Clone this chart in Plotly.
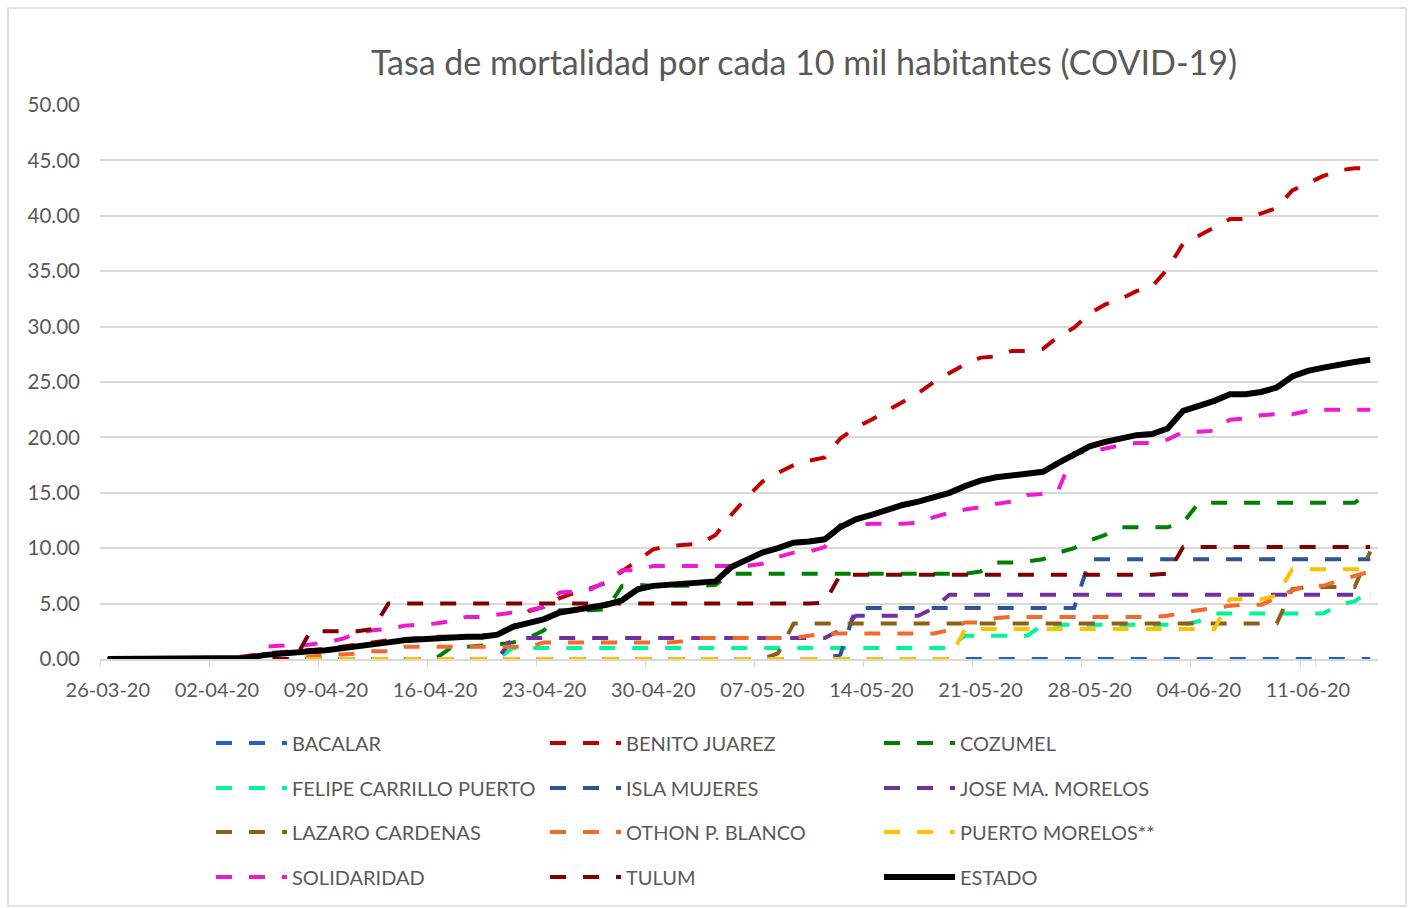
import plotly.graph_objects as go
import pandas as pd

# ---------------- data ----------------
dates = pd.date_range("2020-03-26", periods=82).strftime("%d-%m-%y").tolist()
tick_labels = dates[::7]

BACALAR = [0.0] * 82

BENITO_JUAREZ = [0, 0, 0, 0, 0, 0, 0, 0,
                 0.1, 0.3, 0.5, 0.6, 0.7, 0.8, 0.9, 1.1,
                 1.3, 1.5, 1.7, 1.8, 1.9, 2.0, 2.0, 2.0,
                 2.1, 2.4, 2.9, 4.3, 4.7, 5.5, 6.0, 6.4,
                 6.9, 7.9, 8.9, 9.9, 10.2, 10.3, 10.4, 11.2,
                 13.0, 14.6, 16.0, 16.8, 17.5, 17.9, 18.2, 19.9,
                 20.9, 21.6, 22.4, 23.3, 24.0, 25.0, 25.8, 26.6,
                 27.2, 27.3, 27.8, 27.8, 28.0, 29.1, 29.9, 31.2,
                 32.0, 32.5, 33.2, 33.6, 35.2, 37.5, 38.2, 39.0,
                 39.7, 39.7, 40.2, 40.7, 42.3, 43.0, 43.6, 44.1,
                 44.3, 44.3]

COZUMEL = [0, 0, 0, 0, 0, 0, 0, 0,
           0, 0, 0, 0, 0, 0, 0, 0,
           0, 0, 0, 0, 0, 0, 1.0, 1.1,
           1.2, 1.3, 1.5, 1.9, 2.6, 4.4, 4.4, 4.4,
           4.5, 6.6, 6.7, 6.6, 6.6, 6.6, 6.6, 6.7,
           7.7, 7.7, 7.7, 7.7, 7.7, 7.7, 7.7, 7.7,
           7.7, 7.7, 7.7, 7.7, 7.7, 7.7, 7.7, 7.7,
           7.9, 8.7, 8.7, 8.8, 9.0, 9.6, 10.0, 10.7,
           11.2, 11.9, 11.9, 11.9, 11.9, 12.3, 14.1, 14.1,
           14.1, 14.1, 14.1, 14.1, 14.1, 14.1, 14.1, 14.1,
           14.1, 15.1]

FELIPE_CARRILLO_PUERTO = [0, 0, 0, 0, 0, 0, 0, 0,
                          0, 0, 0, 0, 0, 0, 0, 0,
                          0, 0, 0, 0, 0, 0, 0, 0,
                          0, 0, 1.0, 1.0, 1.0, 1.0, 1.0, 1.0,
                          1.0, 1.0, 1.0, 1.0, 1.0, 1.0, 1.0, 1.0,
                          1.0, 1.0, 1.0, 1.0, 1.0, 1.0, 1.0, 1.0,
                          1.0, 1.0, 1.0, 1.0, 1.0, 1.0, 1.0, 2.1,
                          2.1, 2.1, 2.1, 2.1, 3.1, 3.1, 3.1, 3.1,
                          3.1, 3.1, 3.1, 3.1, 3.1, 3.1, 3.4, 4.1,
                          4.1, 4.1, 4.1, 4.1, 4.1, 4.1, 4.1, 4.9,
                          5.2, 6.2]

ISLA_MUJERES = [0, 0, 0, 0, 0, 0, 0, 0,
                0, 0, 0, 0, 0, 0, 0, 0,
                0, 0, 0, 0, 0, 0, 0, 0,
                0, 0, 0, 0, 0, 0, 0, 0,
                0, 0, 0, 0, 0, 0, 0, 0,
                0, 0, 0, 0, 0, 0, 0, 0.4,
                4.6, 4.6, 4.6, 4.6, 4.6, 4.6, 4.6, 4.6,
                4.6, 4.6, 4.6, 4.6, 4.6, 4.6, 4.6, 9.0,
                9.0, 9.0, 9.0, 9.0, 9.0, 9.0, 9.0, 9.0,
                9.0, 9.0, 9.0, 9.0, 9.0, 9.0, 9.0, 9.0,
                9.0, 9.0]

JOSE_MA_MORELOS = [0, 0, 0, 0, 0, 0, 0, 0,
                   0, 0, 0, 0, 0, 0, 0, 0,
                   0, 0, 0, 0, 0, 0, 0, 0,
                   0, 0, 1.9, 1.9, 1.9, 1.9, 1.9, 1.9,
                   1.9, 1.9, 1.9, 1.9, 1.9, 1.9, 1.9, 1.9,
                   1.9, 1.9, 1.9, 1.9, 1.9, 1.9, 1.9, 2.6,
                   3.9, 3.9, 3.9, 3.9, 3.9, 4.6, 5.8, 5.8,
                   5.8, 5.8, 5.8, 5.8, 5.8, 5.8, 5.8, 5.8,
                   5.8, 5.8, 5.8, 5.8, 5.8, 5.8, 5.8, 5.8,
                   5.8, 5.8, 5.8, 5.8, 5.8, 5.8, 5.8, 5.8,
                   5.8, 5.8]

LAZARO_CARDENAS = [0, 0, 0, 0, 0, 0, 0, 0,
                   0, 0, 0, 0, 0, 0, 0, 0,
                   0, 0, 0, 0, 0, 0, 0, 0,
                   0, 0, 0, 0, 0, 0, 0, 0,
                   0, 0, 0, 0, 0, 0, 0, 0,
                   0, 0, 0, 0.5, 3.2, 3.2, 3.2, 3.2,
                   3.2, 3.2, 3.2, 3.2, 3.2, 3.2, 3.2, 3.2,
                   3.2, 3.2, 3.2, 3.2, 3.2, 3.2, 3.2, 3.2,
                   3.2, 3.2, 3.2, 3.2, 3.2, 3.2, 3.2, 3.2,
                   3.2, 3.2, 3.2, 3.2, 6.3, 6.5, 6.5, 6.5,
                   6.5, 9.7]

OTHON_P_BLANCO = [0, 0, 0, 0, 0, 0, 0, 0,
                  0, 0, 0, 0, 0, 0.2, 0.4, 0.4,
                  0.5, 0.7, 0.7, 1.1, 1.1, 1.1, 1.1, 1.1,
                  1.1, 1.1, 1.1, 1.1, 1.5, 1.5, 1.5, 1.5,
                  1.5, 1.5, 1.5, 1.5, 1.5, 1.6, 1.9, 1.9,
                  1.9, 1.9, 1.9, 1.9, 1.9, 2.1, 2.3, 2.3,
                  2.3, 2.3, 2.3, 2.3, 2.3, 2.3, 2.6, 3.3,
                  3.3, 3.7, 3.8, 3.8, 3.8, 3.8, 3.8, 3.8,
                  3.8, 3.8, 3.8, 3.8, 3.9, 4.2, 4.4, 4.6,
                  4.8, 4.9, 4.9, 5.5, 6.2, 6.6, 6.6, 7.1,
                  7.5, 7.9]

PUERTO_MORELOS = [0, 0, 0, 0, 0, 0, 0, 0,
                  0, 0, 0, 0, 0, 0, 0, 0,
                  0, 0, 0, 0, 0, 0, 0, 0,
                  0, 0, 0, 0, 0, 0, 0, 0,
                  0, 0, 0, 0, 0, 0, 0, 0,
                  0, 0, 0, 0, 0, 0, 0, 0,
                  0, 0, 0, 0, 0, 0, 0, 2.7,
                  2.7, 2.7, 2.7, 2.7, 2.7, 2.7, 2.7, 2.7,
                  2.7, 2.7, 2.7, 2.7, 2.7, 2.7, 2.7, 2.7,
                  5.4, 5.4, 5.4, 5.7, 8.1, 8.1, 8.1, 8.1,
                  8.1, 8.1]

SOLIDARIDAD = [0, 0, 0, 0, 0, 0, 0, 0,
               0, 0, 1.1, 1.2, 1.2, 1.3, 1.5, 1.8,
               2.3, 2.6, 2.7, 3.0, 3.1, 3.2, 3.4, 3.8,
               3.8, 4.0, 4.2, 4.4, 4.7, 6.0, 6.1, 6.3,
               7.0, 8.0, 8.0, 8.4, 8.4, 8.4, 8.4, 8.4,
               8.4, 8.4, 8.6, 9.2, 9.6, 9.7, 10.1, 12.1,
               12.1, 12.2, 12.2, 12.2, 12.3, 12.8, 13.2, 13.5,
               13.7, 14.0, 14.2, 14.8, 14.9, 15.3, 18.6, 18.7,
               19.0, 19.3, 19.5, 19.5, 19.8, 20.5, 20.5, 20.6,
               21.6, 21.7, 22.0, 22.1, 22.1, 22.4, 22.5, 22.5,
               22.5, 22.5]

TULUM = [0, 0, 0, 0, 0, 0, 0, 0,
         0, 0, 0, 0, 0, 2.5, 2.5, 2.5,
         2.5, 2.7, 5.0, 5.0, 5.0, 5.0, 5.0, 5.0,
         5.0, 5.0, 5.0, 5.0, 5.0, 5.0, 5.0, 5.0,
         5.0, 5.0, 5.0, 5.0, 5.0, 5.0, 5.0, 5.0,
         5.0, 5.0, 5.0, 5.0, 5.0, 5.0, 5.1, 7.6,
         7.6, 7.6, 7.6, 7.6, 7.6, 7.6, 7.6, 7.6,
         7.6, 7.6, 7.6, 7.6, 7.6, 7.6, 7.6, 7.6,
         7.6, 7.6, 7.6, 7.6, 7.7, 10.1, 10.1, 10.1,
         10.1, 10.1, 10.1, 10.1, 10.1, 10.1, 10.1, 10.1,
         10.1, 10.1]

ESTADO = [0, 0, 0, 0, 0, 0, 0, 0,
          0, 0.1, 0.35, 0.5, 0.6, 0.7, 0.8, 0.95,
          1.1, 1.3, 1.5, 1.7, 1.8, 1.9, 1.95, 2.0,
          2.0, 2.2, 2.9, 3.2, 3.6, 4.2, 4.4, 4.6,
          4.9, 5.3, 6.3, 6.6, 6.7, 6.8, 6.9, 7.0,
          8.3, 9.0, 9.6, 10.0, 10.5, 10.6, 10.8, 11.9,
          12.6, 13.0, 13.5, 13.9, 14.2, 14.6, 15.0, 15.6,
          16.1, 16.4, 16.6, 16.8, 16.9, 17.7, 18.5, 19.2,
          19.6, 19.9, 20.2, 20.3, 20.8, 22.4, 22.8, 23.3,
          23.9, 23.9, 24.1, 24.5, 25.5, 26.0, 26.3, 26.6,
          26.8, 27.0]

series = [
    ("BACALAR", BACALAR, "#1F62C8"),
    ("BENITO JUAREZ", BENITO_JUAREZ, "#C00000"),
    ("COZUMEL", COZUMEL, "#008000"),
    ("FELIPE CARRILLO PUERTO", FELIPE_CARRILLO_PUERTO, "#00F59B"),
    ("ISLA MUJERES", ISLA_MUJERES, "#2F5597"),
    ("JOSE MA. MORELOS", JOSE_MA_MORELOS, "#7030A0"),
    ("LAZARO CARDENAS", LAZARO_CARDENAS, "#8B6117"),
    ("OTHON P. BLANCO", OTHON_P_BLANCO, "#F26A2D"),
    ("PUERTO MORELOS**", PUERTO_MORELOS, "#FFC000"),
    ("SOLIDARIDAD", SOLIDARIDAD, "#EF1ACD"),
    ("TULUM", TULUM, "#800000"),
    ("ESTADO", ESTADO, "#000000"),
]

# ---------------- figure ----------------
W, H = 1413, 908
L, R, T, B = 100, 35, 105, 249
PW, PH = W - L - R, H - T - B

def px_x(p):
    return (p - L) / PW

def px_y(p):
    return (H - B - p) / PH

FONT = "Lato"
GRAY = "#595959"
GRID = "#D9D9D9"

fig = go.Figure()
legend_names = ["legend", "legend2", "legend3", "legend4"]
for i, (name, vals, col) in enumerate(series):
    is_total = name == "ESTADO"
    fig.add_trace(go.Scatter(
        x=dates, y=vals, mode="lines", name=name,
        line=dict(color=col, width=6 if is_total else 4,
                  dash="solid" if is_total else "16px,17px"),
        legend=legend_names[i // 3],
        hovertemplate="%{x}: %{y:.2f}<extra>" + name + "</extra>",
    ))

ITEMW = 71
row_y = [743, 788, 832, 877]
legend_common = dict(
    orientation="h", xanchor="left", yanchor="middle",
    x=px_x(211), entrywidth=333 - ITEMW - 14, entrywidthmode="pixels",
    itemwidth=ITEMW, bgcolor="rgba(0,0,0,0)", traceorder="normal",
    font=dict(family=FONT, size=20, color=GRAY),
)
legends = {}
for k, ln in enumerate(legend_names):
    legends[ln] = dict(legend_common, y=px_y(row_y[k]))

fig.update_layout(
    width=W, height=H,
    margin=dict(l=L, r=R, t=T, b=B),
    paper_bgcolor="white", plot_bgcolor="white",
    title=dict(text="Tasa de mortalidad por cada 10 mil habitantes (COVID-19)",
               font=dict(family=FONT, size=34, color=GRAY),
               x=804 / W, xanchor="center", xref="container",
               y=1 - 63 / H, yanchor="middle", yref="container"),
    xaxis=dict(type="category", categoryorder="array", categoryarray=dates,
               range=[-0.5, 81.5], tickmode="array", tickvals=tick_labels,
               ticktext=tick_labels, tickson="boundaries", tickangle=0,
               ticks="outside", ticklen=6, tickcolor=GRID,
               showline=True, linecolor=GRID, linewidth=1.5,
               showgrid=False, zeroline=False, ticklabelstandoff=12,
               tickfont=dict(family=FONT, size=20, color=GRAY)),
    yaxis=dict(range=[0, 50], dtick=5, tick0=0, tickformat=".2f",
               showgrid=True, gridcolor=GRID, gridwidth=1.5,
               zeroline=False, showline=False, ticks="",
               ticklabelstandoff=19,
               tickfont=dict(family=FONT, size=20.5, color=GRAY)),
    shapes=[dict(type="rect", xref="paper", yref="paper",
                 x0=px_x(8), x1=px_x(1406), y0=px_y(906), y1=px_y(8),
                 line=dict(color=GRID, width=1.5), fillcolor="rgba(0,0,0,0)",
                 layer="below")],
    showlegend=True,
    **legends,
)

fig.write_html("out.html", config={"displayModeBar": False},
               post_script="document.body.style.margin='0px';")
